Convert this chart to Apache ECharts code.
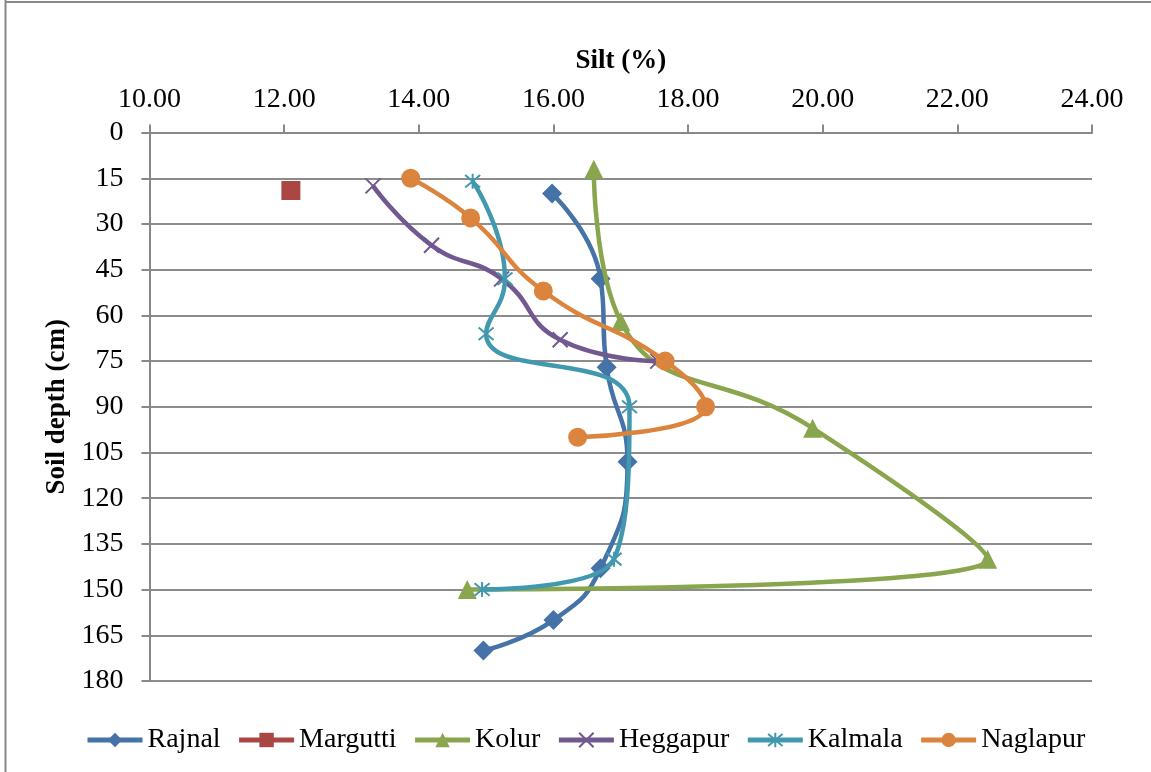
<!DOCTYPE html>
<html>
<head>
<meta charset="utf-8">
<script src="https://cdn.jsdelivr.net/npm/echarts@6/dist/echarts.min.js"></script>
<style>
  html, body { margin: 0; padding: 0; background: #fff; }
  #chart { width: 1151px; height: 772px; }
</style>
</head>
<body>
<div id="chart"></div>
<script>
// silt (%) vs soil depth (cm)
const rajnal   = [[15.98, 20], [16.70, 48], [16.79, 77], [17.10, 108], [16.70, 143], [16.00, 160], [14.96, 170]];
const margutti = [[12.10, 19]];
const kolur    = [[16.60, 12], [17.00, 62], [19.85, 97], [22.45, 140], [14.72, 150]];
const heggapur = [[13.32, 17.5], [14.19, 37], [15.23, 48], [16.10, 68], [17.55, 75]];
const kalmala  = [[14.80, 16], [15.28, 48], [15.00, 66], [17.13, 90], [16.90, 140], [14.94, 150]];
const naglapur = [[13.88, 15], [14.77, 28], [15.85, 52], [17.66, 75], [18.26, 90], [16.36, 100]];

const siteNames = ['Rajnal', 'Margutti', 'Kolur', 'Heggapur', 'Kalmala', 'Naglapur'];
const siteData = [rajnal, margutti, kolur, heggapur, kalmala, naglapur];

const colors = ['#4572A7', '#AA4643', '#89A54E', '#71588F', '#4198AF', '#DB843D'];
const symbols = [
    'diamond',
    'rect',
    'triangle',
    'path://M0,0L10,10M10,0L0,10',
    'path://M0,0L10,10M10,0L0,10M5,-1L5,11',
    'circle'
];
const symbolSizes = [20, 19, 19, 15, 15, 19];

const FONT = '"Liberation Serif", "Times New Roman", serif';

const chart = echarts.init(document.getElementById('chart'));

const series = siteNames.map(function (name, i) {
    const stroked = symbols[i].indexOf('path://') === 0;
    return {
        name: name,
        type: 'line',
        data: siteData[i],
        smooth: 0.5,
        symbol: symbols[i],
        symbolSize: symbolSizes[i],
        showAllSymbol: true,
        lineStyle: { color: colors[i], width: 4.5 },
        itemStyle: stroked
            ? { color: colors[i], borderColor: colors[i], borderWidth: 2 }
            : { color: colors[i] },
        emphasis: { disabled: true },
        z: 2 + i
    };
});

const option = {
    animation: false,
    color: colors,
    textStyle: { fontFamily: FONT },
    grid: { left: 149.5, right: 59, top: 132.6, bottom: 91, containLabel: false },
    graphic: [
        { type: 'line', shape: { x1: 5.5, y1: 0, x2: 5.5, y2: 772 }, style: { stroke: '#888', lineWidth: 2 } },
        { type: 'line', shape: { x1: 5, y1: 2, x2: 1151, y2: 2 }, style: { stroke: '#888', lineWidth: 2 } }
    ],
    xAxis: {
        type: 'value',
        position: 'top',
        min: 10,
        max: 24,
        interval: 2,
        name: 'Silt (%)',
        nameLocation: 'middle',
        nameGap: 58,
        nameTextStyle: { fontFamily: FONT, fontSize: 27, fontWeight: 'bold', color: '#000' },
        axisLine: { show: true, lineStyle: { color: '#888', width: 2 } },
        axisTick: { show: true, length: 8, lineStyle: { color: '#888', width: 2 } },
        axisLabel: {
            fontFamily: FONT, fontSize: 28, color: '#000', margin: 19,
            formatter: function (v) { return v.toFixed(2); }
        },
        splitLine: { show: false }
    },
    yAxis: {
        type: 'value',
        inverse: true,
        min: 0,
        max: 180,
        interval: 15,
        name: 'Soil depth (cm)',
        nameLocation: 'middle',
        nameRotate: 90,
        nameGap: 59,
        nameTextStyle: { fontFamily: FONT, fontSize: 27, fontWeight: 'bold', color: '#000' },
        axisLine: { show: true, lineStyle: { color: '#888', width: 2 } },
        axisTick: { show: true, length: 8, lineStyle: { color: '#888', width: 2 } },
        axisLabel: { fontFamily: FONT, fontSize: 28, color: '#000', margin: 26 },
        splitLine: { show: true, lineStyle: { color: '#8c8c8c', width: 2 } }
    },
    legend: {
        data: siteNames,
        left: 80,
        top: 721,
        itemWidth: 55,
        itemHeight: 18,
        itemGap: 16,
        lineStyle: { width: 5 },
        textStyle: { fontFamily: FONT, fontSize: 28, color: '#000' }
    },
    series: series
};

chart.setOption(option);
</script>
</body>
</html>
